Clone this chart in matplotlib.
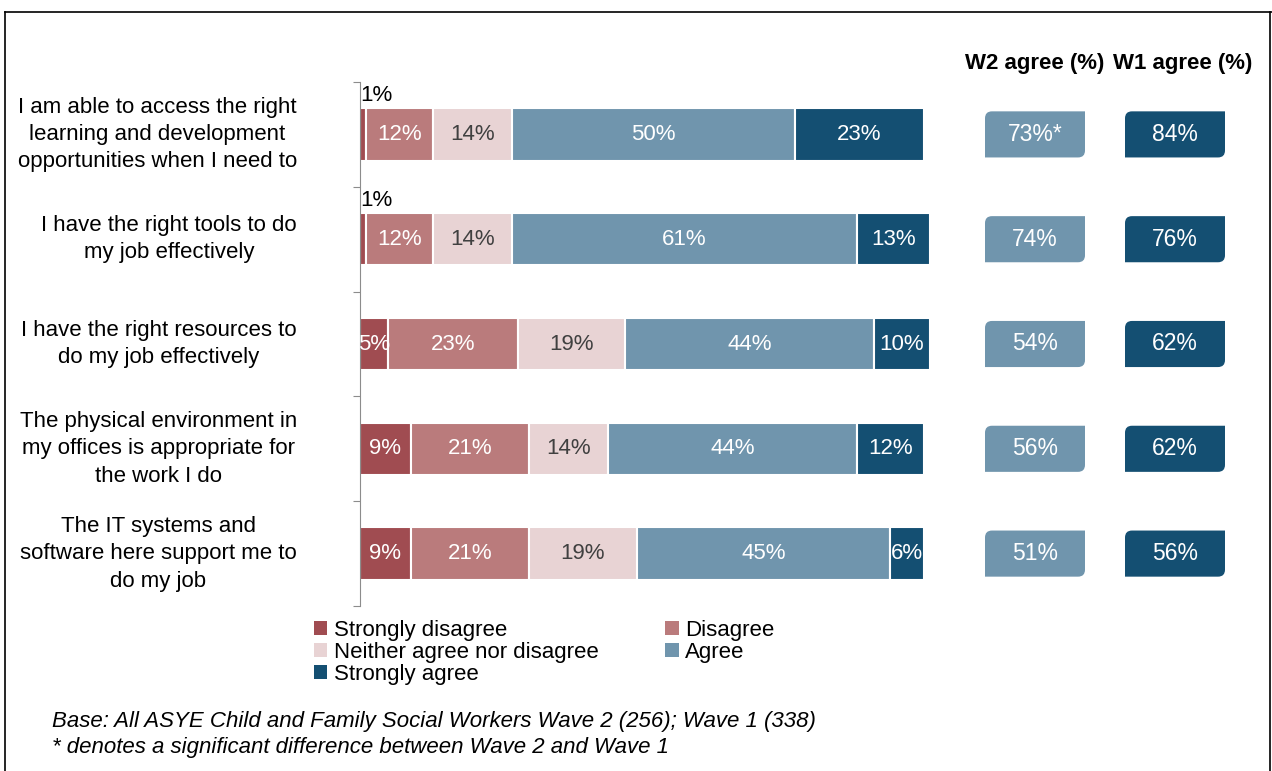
import matplotlib
matplotlib.use('Agg')
import matplotlib.pyplot as plt
from matplotlib.path import Path
from matplotlib.patches import PathPatch, Patch
from matplotlib.lines import Line2D

plt.rcParams['font.family'] = ['Liberation Sans', 'DejaVu Sans']

statements = [
    'I am able to access the right\nlearning and development\nopportunities when I need to',
    'I have the right tools to do\nmy job effectively',
    'I have the right resources to\ndo my job effectively',
    'The physical environment in\nmy offices is appropriate for\nthe work I do',
    'The IT systems and\nsoftware here support me to\ndo my job',
]
responses = ['Strongly disagree', 'Disagree', 'Neither agree nor disagree',
             'Agree', 'Strongly agree']
strongly_disagree = [1, 1, 5, 9, 9]
disagree = [12, 12, 23, 21, 21]
neither = [14, 14, 19, 14, 19]
agree = [50, 61, 44, 44, 45]
strongly_agree = [23, 13, 10, 12, 6]
w2_agree = [73, 74, 54, 56, 51]
w2_significant = [True, False, False, False, False]
w1_agree = [84, 76, 62, 62, 56]

colors = ['#A04C51', '#BA7B7C', '#E8D3D4', '#7095AD', '#144F72']
text_colors = ['white', 'white', '#404040', 'white', 'white']
FS = 16

W, H = 1272, 771
fig = plt.figure(figsize=(W / 100, H / 100), dpi=100)

# axes placed in pixel terms: x 0..101 over 360..930 px, rows 82..606 px
ax = fig.add_axes([360 / W, (H - 606) / H, 570 / W, 524 / H])
ax.set_xlim(0, 101)
ax.set_ylim(4.5, -0.5)

series = [strongly_disagree, disagree, neither, agree, strongly_agree]
n = len(statements)
rows = list(range(n))
left = [0] * n
for k, vals in enumerate(series):
    ax.barh(rows, vals, left=left, height=0.5, color=colors[k],
            edgecolor='white', linewidth=1.5, clip_on=False)
    for i in rows:
        v = vals[i]
        if v < 3:
            ax.text(left[i], i - 0.27, '%d%%' % v, ha='left', va='bottom',
                    fontsize=FS, color='black')
        else:
            ax.text(left[i] + v / 2, i, '%d%%' % v, ha='center', va='center',
                    fontsize=FS, color=text_colors[k])
        left[i] += v

for i in rows:
    ax.text(-11.2, i, statements[i], ha='right', va='center',
            multialignment='center', fontsize=FS, linespacing=1.4)

# spines / ticks
for s in ['top', 'right', 'bottom']:
    ax.spines[s].set_visible(False)
ax.spines['left'].set_color('#8C8C8C')
ax.set_xticks([])
ax.set_yticks([r - 0.5 for r in rows] + [n - 0.5])
ax.set_yticklabels([])
ax.tick_params(axis='y', direction='out', length=5, color='#8C8C8C')

# agree boxes (rounded top-left and bottom-right corners)
px_x = 570 / 101.0
px_y = 524 / 5.0


def corner_box(x0, width, yc, height, color, label):
    x1 = x0 + width
    yt, yb = yc - height / 2, yc + height / 2
    rx, ry = 7 / px_x, 7 / px_y
    verts = [(x0 + rx, yt), (x1, yt), (x1, yb - ry), (x1, yb), (x1 - rx, yb),
             (x0, yb), (x0, yt + ry), (x0, yt), (x0 + rx, yt), (x0 + rx, yt)]
    codes = [Path.MOVETO, Path.LINETO, Path.LINETO, Path.CURVE3, Path.CURVE3,
             Path.LINETO, Path.LINETO, Path.CURVE3, Path.CURVE3, Path.CLOSEPOLY]
    ax.add_patch(PathPatch(Path(verts, codes), facecolor=color,
                           edgecolor='none', clip_on=False))
    ax.text(x0 + width / 2, yc, label, ha='center', va='center',
            fontsize=FS + 0.5, color='white', clip_on=False)


w2_x = (985 - 360) / px_x
w1_x = (1125 - 360) / px_x
bw = 100 / px_x
for i in rows:
    lab2 = '%d%%' % w2_agree[i] + ('*' if w2_significant[i] else '')
    corner_box(w2_x, bw, i, 0.44, colors[3], lab2)
    corner_box(w1_x, bw, i, 0.44, colors[4], '%d%%' % w1_agree[i])

ax.text(w2_x + bw / 2, -0.68, 'W2 agree (%)', ha='center', va='center',
        fontsize=FS, fontweight='bold')
ax.text(w1_x + bw / 2 + 1.3, -0.68, 'W1 agree (%)', ha='center', va='center',
        fontsize=FS, fontweight='bold')

# legend, row-major order across two columns
order = [0, 2, 4, 1, 3]
handles = [Patch(facecolor=colors[k], edgecolor='none') for k in order]
labels = [responses[k] for k in order]
fig.legend(handles, labels, ncol=2, loc='upper left',
           bbox_to_anchor=(314 / W, 1 - 620 / H), frameon=False,
           fontsize=FS, handlelength=0.6, handleheight=0.6,
           handletextpad=0.3, labelspacing=0.05, columnspacing=3.0,
           borderpad=0, borderaxespad=0)

fig.text(52 / W, 1 - 721 / H,
         'Base: All ASYE Child and Family Social Workers Wave 2 (256); Wave 1 (338)',
         ha='left', va='center', fontsize=16, style='italic')
fig.text(52 / W, 1 - 747 / H,
         '* denotes a significant difference between Wave 2 and Wave 1',
         ha='left', va='center', fontsize=16, style='italic')

# outer frame
fig.add_artist(Line2D([5 / W, 5 / W], [0, 1 - 12 / H], color='black', lw=1.2))
fig.add_artist(Line2D([5 / W, 1], [1 - 12 / H, 1 - 12 / H], color='black', lw=1.2))
fig.add_artist(Line2D([1 - 2 / W, 1 - 2 / W], [0, 1 - 12 / H], color='black', lw=1.2))

fig.savefig('out.png', dpi=100, facecolor='white')
